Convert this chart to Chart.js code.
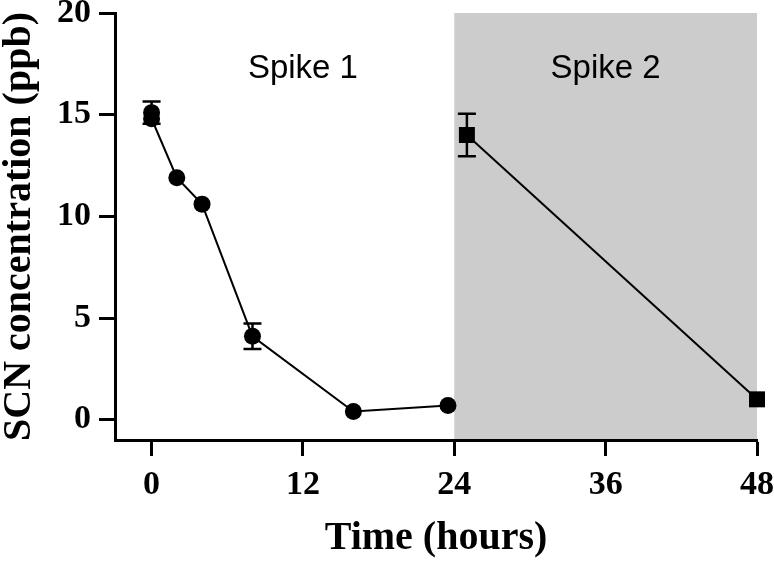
<!DOCTYPE html>
<html>
<head>
<meta charset="utf-8">
<script src="https://cdn.jsdelivr.net/npm/chart.js@4"></script>
<style>
    body { margin: 0; background: #fff; }
    #wrap { width: 774px; height: 561px; }
</style>
</head>
<body>
<div id="wrap"><canvas id="scnChart" width="774" height="561"></canvas></div>
<script>
// 數據 - 從圖上讀取
const spike1Hours = [0, 0, 2, 4, 8, 16, 23.5];
const spike1Scn = [15.1, 14.8, 11.9, 10.6, 4.1, 0.4, 0.7];
const spike1Err = [0.55, 0, 0, 0, 0.63, 0, 0];

const spike2Hours = [25, 48];
const spike2Scn = [14.0, 1.0];
const spike2Err = [1.05, 0];

const xTicks = [0, 12, 24, 36, 48];
const yTicks = [0, 5, 10, 15, 20];

const shadeHours = [24, 48];
const spikeLabels = ['Spike 1', 'Spike 2'];
const spikeLabelHours = [12, 36];
const spikeLabelLevel = 16.8;

const serifBold = { family: "'Liberation Serif', 'Times New Roman', serif", weight: 'bold' };

/**
 * 灰色區域 (Spike 2)
 */
const shadePlugin = {
    id: 'shade',
    beforeDraw(chart) {
        const { ctx, chartArea, scales } = chart;
        ctx.save();
        ctx.fillStyle = '#ffffff';
        ctx.fillRect(0, 0, chart.width, chart.height);
        const x1 = scales.x.getPixelForValue(shadeHours[0]);
        const x2 = scales.x.getPixelForValue(shadeHours[1]);
        ctx.fillStyle = '#cccccc';
        ctx.fillRect(x1, chartArea.top, x2 - x1, chartArea.bottom - chartArea.top);
        ctx.restore();
    }
};

/**
 * 誤差線
 */
const errorBarPlugin = {
    id: 'errorBars',
    beforeDatasetsDraw(chart) {
        const { ctx, scales } = chart;
        const errs = [spike1Err, spike2Err];
        ctx.save();
        ctx.strokeStyle = '#000';
        ctx.lineWidth = 2.5;
        chart.data.datasets.forEach((ds, i) => {
            ds.data.forEach((p, j) => {
                const e = errs[i][j];
                if (!e) return;
                const x = scales.x.getPixelForValue(p.x);
                const yTop = scales.y.getPixelForValue(p.y + e);
                const yBot = scales.y.getPixelForValue(p.y - e);
                ctx.beginPath();
                ctx.moveTo(x, yTop); ctx.lineTo(x, yBot);
                ctx.moveTo(x - 9, yTop); ctx.lineTo(x + 9, yTop);
                ctx.moveTo(x - 9, yBot); ctx.lineTo(x + 9, yBot);
                ctx.stroke();
            });
        });
        ctx.restore();
    }
};

/**
 * 文字標籤
 */
const labelPlugin = {
    id: 'spikeLabels',
    afterDatasetsDraw(chart) {
        const { ctx, scales } = chart;
        ctx.save();
        ctx.fillStyle = '#000';
        ctx.font = "33px 'Liberation Sans', Arial, sans-serif";
        ctx.textAlign = 'center';
        ctx.textBaseline = 'alphabetic';
        spikeLabels.forEach((t, i) => {
            ctx.fillText(t, scales.x.getPixelForValue(spikeLabelHours[i]), scales.y.getPixelForValue(spikeLabelLevel));
        });
        ctx.restore();
    }
};

new Chart(document.getElementById('scnChart'), {
    type: 'scatter',
    data: {
        datasets: [
            {
                label: 'Spike 1',
                data: spike1Hours.map((h, i) => ({ x: h, y: spike1Scn[i] })),
                showLine: true,
                clip: false,
                borderColor: '#000',
                backgroundColor: '#000',
                borderWidth: 2,
                pointStyle: 'circle',
                pointRadius: 8.5,
                pointBorderWidth: 0
            },
            {
                label: 'Spike 2',
                data: spike2Hours.map((h, i) => ({ x: h, y: spike2Scn[i] })),
                showLine: true,
                clip: false,
                borderColor: '#000',
                backgroundColor: '#000',
                borderWidth: 2,
                pointStyle: 'rect',
                pointRadius: 11.3,
                pointBorderWidth: 0
            }
        ]
    },
    options: {
        responsive: false,
        animation: false,
        devicePixelRatio: 1,
        layout: {
            padding: { left: 0, right: 17, top: 13, bottom: 0 }
        },
        plugins: {
            legend: { display: false },
            tooltip: { enabled: false }
        },
        scales: {
            x: {
                type: 'linear',
                min: -2.9,
                max: 48,
                afterBuildTicks: s => { s.ticks = xTicks.map(v => ({ value: v })); },
                afterFit: s => { s.height = 121; s.paddingLeft = 0; s.paddingRight = 0; },
                border: { color: '#000', width: 3 },
                grid: { drawOnChartArea: false, tickLength: 16, tickWidth: 3, tickColor: '#000' },
                ticks: {
                    color: '#000',
                    padding: 12,
                    font: { ...serifBold, size: 34, lineHeight: 1 }
                },
                title: {
                    display: true,
                    text: 'Time (hours)',
                    color: '#000',
                    padding: { top: 0, bottom: 2 },
                    font: { ...serifBold, size: 40, lineHeight: 1 }
                }
            },
            y: {
                type: 'linear',
                min: -1,
                max: 20,
                afterBuildTicks: s => { s.ticks = yTicks.map(v => ({ value: v })); },
                afterFit: s => { s.width = 115; s.paddingTop = 0; s.paddingBottom = 0; },
                border: { color: '#000', width: 3 },
                grid: { drawOnChartArea: false, tickLength: 16, tickWidth: 3, tickColor: '#000' },
                ticks: {
                    color: '#000',
                    padding: 8,
                    font: { ...serifBold, size: 34, lineHeight: 1 }
                },
                title: {
                    display: true,
                    text: 'SCN concentration (ppb)',
                    color: '#000',
                    padding: { top: 0, bottom: 0 },
                    font: { ...serifBold, size: 40, lineHeight: 1 }
                }
            }
        }
    },
    plugins: [shadePlugin, errorBarPlugin, labelPlugin]
});
</script>
</body>
</html>
